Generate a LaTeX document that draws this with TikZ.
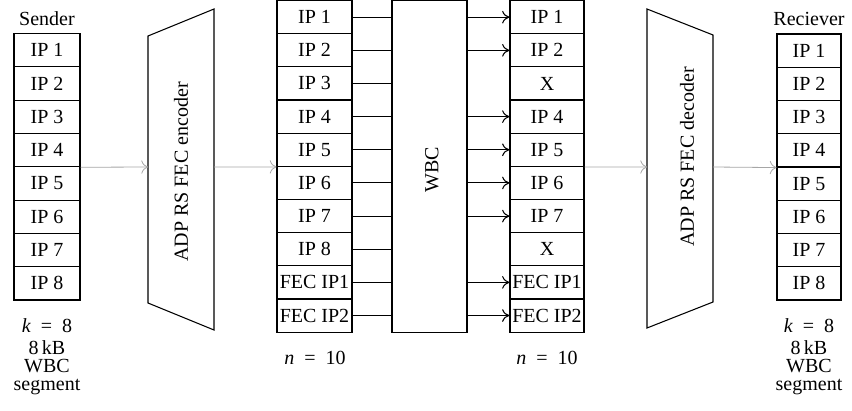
\documentclass[tikz,border=0pt]{standalone}
\usepackage{fontspec}
\setmainfont{Liberation Serif}
\usetikzlibrary{arrows.meta}
\tikzset{
  txt/.style={font=\fontsize{15}{13.5}\selectfont,inner sep=0pt,align=center},
  cellbase/.style={draw,line width=0.8pt,inner sep=0pt,font=\fontsize{15}{18}\selectfont},
  scell/.style={cellbase,minimum width=49.5pt,minimum height=24.98pt},
  mcell/.style={cellbase,minimum width=56.25pt,minimum height=24.9pt},
  rcell/.style={cellbase,minimum width=55.5pt,minimum height=24.9pt},
  vcell/.style={cellbase,minimum width=48pt,minimum height=24.98pt},
  blk/.style={draw,line width=0.8pt},
  garrow/.style={draw=black!35,line width=0.6pt,-{To[length=5pt,width=10pt]}},
  barrow/.style={draw,line width=0.8pt,-{To[length=5.5pt,width=9.5pt]}},
  bline/.style={draw,line width=0.8pt}
}
\begin{document}
\begin{tikzpicture}[x=0.75pt,y=-0.75pt]
\useasboundingbox (0,0) rectangle (852,410);
% Sender
\node[txt] (sl) at (47,19) {Sender};
\foreach \i in {1,...,8}
  \node[scell] (s\i) at (47,{33.5+33.31*(\i-0.5)}) {IP \i};
\node[txt] (sk) at (47,326) {\textit{k}\enspace=\enspace8};
\node[txt] (ss) at (47,368) {8\,kB\\WBC\\segment};
% Encoder
\draw[blk] (148,36) -- (214,9) -- (214,330) -- (148,303) -- cycle;
\coordinate (encin) at (148,167);
\coordinate (encout) at (214,167);
\node[txt,rotate=90] (enc) at (181,172) {ADP RS FEC encoder};
% Middle column
\foreach \i/\t in {1/IP 1,2/IP 2,3/IP 3,4/IP 4,5/IP 5,6/IP 6,7/IP 7,8/IP 8,9/FEC IP1,10/FEC IP2}
  \node[mcell] (m\i) at (314.5,{0.6+33.15*(\i-0.5)}) {\t};
\node[txt] (mn) at (315,358) {\textit{n}\enspace=\enspace10};
% WBC
\node[draw,line width=0.8pt,minimum width=56.25pt,minimum height=248.6pt,inner sep=0pt] (wbc) at (429.5,166.3) {};
\node[txt,rotate=90] (wbct) at (432,170) {WBC};
% Right column
\foreach \i/\t in {1/IP 1,2/IP 2,3/X,4/IP 4,5/IP 5,6/IP 6,7/IP 7,8/X,9/FEC IP1,10/FEC IP2}
  \node[rcell] (r\i) at (547,{0.6+33.15*(\i-0.5)}) {\t};
\node[txt] (rn) at (547,358) {\textit{n}\enspace=\enspace10};
% Decoder
\draw[blk] (647,9) -- (713,35) -- (713,302) -- (647,328) -- cycle;
\coordinate (decin) at (647,167);
\coordinate (decout) at (713,167);
\node[txt,rotate=90] (dec) at (687,157) {ADP RS FEC decoder};
% Receiver
\node[txt] (vl) at (809,19) {Reciever};
\foreach \i in {1,...,8}
  \node[vcell] (v\i) at (809,{34+33.25*(\i-0.5)}) {IP \i};
\node[txt] (vk) at (809,326) {\textit{k}\enspace=\enspace8};
\node[txt] (vs) at (809,368) {8\,kB\\WBC\\segment};
% connectors
\draw[garrow] (s4.south east) -- (encin);
\draw[garrow] (encout) -- (m5.south west);
\draw[garrow] (r5.south east) -- (decin);
\draw[garrow] (decout) -- (v4.south west);
\foreach \i in {1,...,10}
  \draw[bline] (m\i.east) -- (m\i.east -| wbc.west);
\foreach \i in {1,2,4,5,6,7,9,10}
  \draw[barrow] (wbc.east |- r\i.west) -- (r\i.west);
\end{tikzpicture}
\end{document}
